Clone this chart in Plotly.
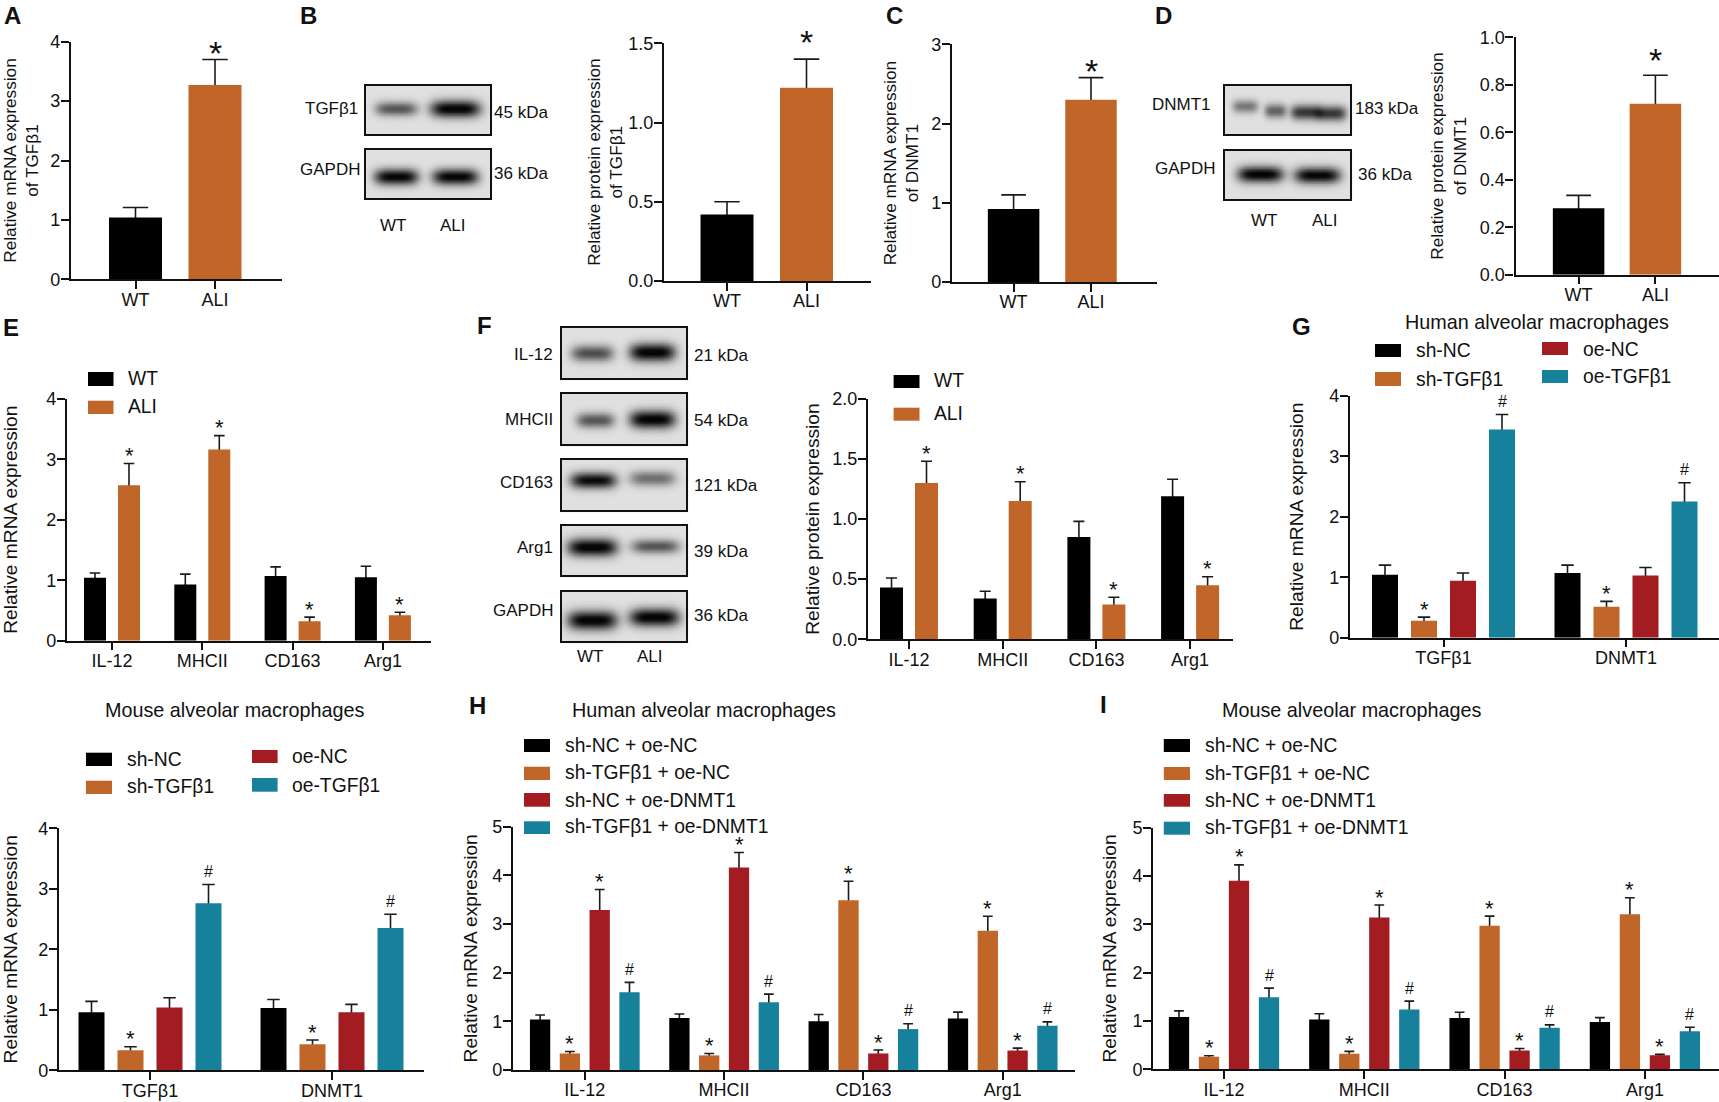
import numpy as np
import plotly.graph_objects as go

W, H = 1719, 1102
BLACK, ORANGE, RED, TEAL = "#000000", "#BF6628", "#A21C22", "#17809A"
FONT = "Liberation Sans, Arial, sans-serif"

# ---------- data ----------
wt_ali = ["WT", "ALI"]
macro_markers = ["IL-12", "MHCII", "CD163", "Arg1"]
genes = ["TGFβ1", "DNMT1"]

a_vals = [1.04, 3.27]; a_tops = [1.21, 3.70]
b_vals = [0.42, 1.22]; b_tops = [0.50, 1.40]
c_vals = [0.92, 2.30]; c_tops = [1.10, 2.58]
d_vals = [0.28, 0.72]; d_tops = [0.334, 0.84]

e_wt = [1.04, 0.93, 1.07, 1.05];   e_wt_tops = [1.12, 1.10, 1.22, 1.23]
e_ali = [2.57, 3.16, 0.32, 0.42];  e_ali_tops = [2.93, 3.39, 0.39, 0.47]
f_wt = [0.43, 0.34, 0.85, 1.19];   f_wt_tops = [0.51, 0.40, 0.98, 1.33]
f_ali = [1.30, 1.15, 0.29, 0.45];  f_ali_tops = [1.48, 1.31, 0.35, 0.52]

g_shnc = [1.04, 1.07];   g_shnc_tops = [1.20, 1.20]
g_shtg = [0.28, 0.51];   g_shtg_tops = [0.34, 0.60]
g_oenc = [0.94, 1.03];   g_oenc_tops = [1.07, 1.16]
g_oetg = [3.44, 2.25];   g_oetg_tops = [3.69, 2.56]

j_shnc = [0.96, 1.03];   j_shnc_tops = [1.14, 1.17]
j_shtg = [0.33, 0.43];   j_shtg_tops = [0.39, 0.50]
j_oenc = [1.04, 0.96];   j_oenc_tops = [1.20, 1.09]
j_oetg = [2.76, 2.35];   j_oetg_tops = [3.07, 2.58]

h_nn = [1.04, 1.07, 1.00, 1.06];  h_nn_tops = [1.13, 1.15, 1.14, 1.19]
h_tn = [0.34, 0.30, 3.49, 2.86];  h_tn_tops = [0.38, 0.34, 3.88, 3.16]
h_nd = [3.29, 4.16, 0.34, 0.40];  h_nd_tops = [3.71, 4.47, 0.41, 0.45]
h_td = [1.60, 1.39, 0.84, 0.91];  h_td_tops = [1.80, 1.56, 0.95, 0.99]

i_nn = [1.08, 1.03, 1.06, 0.98];  i_nn_tops = [1.21, 1.15, 1.18, 1.07]
i_tn = [0.26, 0.32, 2.97, 3.21];  i_tn_tops = [0.28, 0.37, 3.17, 3.55]
i_nd = [3.90, 3.14, 0.39, 0.29];  i_nd_tops = [4.23, 3.40, 0.43, 0.31]
i_td = [1.49, 1.24, 0.86, 0.79];  i_td_tops = [1.68, 1.41, 0.92, 0.87]

two_marks = ["", "*"]
star_4 = ["*", "*", "*", "*"]
hash_4 = ["#", "#", "#", "#"]
none_4 = ["", "", "", ""]
star_2 = ["*", "*"]
hash_2 = ["#", "#"]
none_2 = ["", ""]

fig = go.Figure()
layout = dict(
    width=W, height=H, autosize=False,
    margin=dict(l=0, r=0, t=0, b=0, pad=0, autoexpand=False),
    barmode="overlay",
    paper_bgcolor="white", plot_bgcolor="rgba(0,0,0,0)", showlegend=False,
    font=dict(family=FONT, color="#111111"),
    xaxis=dict(domain=[0, 1], range=[0, W], visible=False, fixedrange=True),
    yaxis=dict(domain=[0, 1], range=[H, 0], visible=False, fixedrange=True),
)
shapes, annots = [], []


def label(x, y, text, size=19.3, anchor="left", bold=False):
    shift = {"left": -2, "right": 2, "center": 0}[anchor]
    annots.append(dict(x=x, y=y, xref="x", yref="y", text=f"<b>{text}</b>" if bold else text,
                       showarrow=False, xanchor=anchor, yanchor="middle", xshift=shift,
                       font=dict(size=size, family=FONT, color="#111111")))


def swatches(items, x0, x1, size=19.3, textx=None):
    for y0, y1, color, text, ty in items:
        shapes.append(dict(type="rect", xref="x", yref="y", x0=x0, x1=x1, y0=y0, y1=y1,
                           fillcolor=color, line=dict(width=0)))
        label(textx, ty, text, size=size)


panel_no = [1]


def panel(box, cats, tick0, step, series, bar_w, pitch, ymax, dtick, fmt, title,
          standoff, tsize=19.2, mark_font=(22, 16), star_shift=8, hash_shift=13):
    panel_no[0] += 1
    n = panel_no[0]
    x0, x1, yt, yb = box
    xa, ya = f"x{n}", f"y{n}"
    tick_idx = np.arange(len(cats), dtype=float)
    for i, (vals, tops, color, marks) in enumerate(series):
        off = (i - (len(series) - 1) / 2) * pitch / step
        xs = tick_idx + off
        vals, tops = np.array(vals, float), np.array(tops, float)
        # error bars sit on a transparent carrier; the coloured bar drawn after it hides the lower half
        fig.add_trace(go.Bar(
            x=xs, y=vals, width=bar_w / step, marker=dict(color="rgba(0,0,0,0)", line=dict(width=0)),
            xaxis=xa, yaxis=ya, hoverinfo="skip",
            error_y=dict(type="data", symmetric=True, array=tops - vals, color="#1a1a1a",
                         thickness=1.6, width=bar_w * 0.24)))
        fig.add_trace(go.Bar(
            x=xs, y=vals, width=bar_w / step, marker=dict(color=color, line=dict(width=0)),
            xaxis=xa, yaxis=ya, hoverinfo="skip"))
        for x, t, m in zip(xs, tops, marks):
            if m:
                annots.append(dict(x=x, y=t, xref=xa, yref=ya, text=m, showarrow=False,
                                   xanchor="center", yanchor="middle",
                                   yshift=star_shift if m == "*" else hash_shift,
                                   font=dict(size=mark_font[0] if m == "*" else mark_font[1],
                                             family=FONT, color="#111111")))
    layout["xaxis%d" % n] = dict(
        domain=[x0 / W, x1 / W], anchor=ya, range=[(x0 - tick0) / step, (x1 - tick0) / step],
        tickmode="array", tickvals=list(tick_idx), ticktext=cats, ticks="outside", ticklen=7.5,
        ticklabelstandoff=-5,
        tickwidth=2, tickcolor="#111111", showline=True, linecolor="#111111", linewidth=2.2,
        showgrid=False, zeroline=False, tickfont=dict(size=18, family=FONT, color="#111111"),
        fixedrange=True)
    layout["yaxis%d" % n] = dict(
        domain=[1 - yb / H, 1 - yt / H], anchor=xa, range=[0, ymax], dtick=dtick, tick0=0,
        tickformat=fmt, ticks="outside", ticklen=8, tickwidth=2, tickcolor="#111111",
        ticklabelstandoff=-3,
        showline=True, linecolor="#111111", linewidth=2.2, showgrid=False, zeroline=False,
        tickfont=dict(size=18, family=FONT, color="#111111"), fixedrange=True,
        title=dict(text=title, standoff=standoff, font=dict(size=tsize, family=FONT, color="#111111")))


def blot(x0, x1, y0, y1, bands, bg=0.88):
    xs = np.arange(x0, x1 + 1, 1.5)
    ys = np.arange(y0, y1 + 1, 1.5)
    X, Y = np.meshgrid(xs, ys)
    z = np.full(X.shape, bg)
    for cx, hw, cy, hh, s in bands:
        z -= s * np.exp(-((X - cx) / hw) ** 4) * np.exp(-((Y - cy) / hh) ** 2)
    fig.add_trace(go.Heatmap(x=xs, y=ys, z=np.clip(z, 0.02, 1).round(3).tolist(), xaxis="x", yaxis="y",
                             zmin=0, zmax=1, zsmooth="best", showscale=False, hoverinfo="skip",
                             colorscale=[[0, "#000000"], [1, "#ffffff"]]))
    shapes.append(dict(type="rect", xref="x", yref="y", x0=x0, x1=x1, y0=y0, y1=y1,
                       line=dict(color="#111111", width=2)))


# ---------- blots (drawn on a full-page pixel axis) ----------
blot(365, 491, 85, 135, [(396, 21, 108.5, 7, 0.55), (455, 25, 108.5, 8.5, 0.9)])
blot(365, 491, 149, 199, [(396, 22, 176.5, 8, 0.88), (455, 23, 176.5, 8, 0.88)])
label(358, 108, "TGFβ1", 17, "right"); label(360, 169, "GAPDH", 17, "right")
label(494, 112, "45 kDa", 17, "left"); label(494, 173, "36 kDa", 17, "left")
label(393, 225, "WT", 17, "center"); label(453, 225, "ALI", 17, "center")

blot(1224, 1351, 85, 135, [(1245, 13, 106, 6.5, 0.42), (1275, 11, 110.5, 7, 0.5),
                           (1305, 15, 112, 7.5, 0.68), (1331, 15, 113, 7.5, 0.68)])
blot(1224, 1351, 150, 200, [(1260, 23, 174, 8, 0.9), (1317, 23, 175, 8, 0.88)])
label(1211, 104, "DNMT1", 17, "right"); label(1215, 168, "GAPDH", 17, "right")
label(1355, 108, "183 kDa", 17, "left"); label(1358, 174, "36 kDa", 17, "left")
label(1264, 220, "WT", 17, "center"); label(1325, 220, "ALI", 17, "center")

blot(561, 687, 327, 379, [(592, 21, 353, 8, 0.58), (652, 23, 352, 9, 0.9)])
blot(561, 687, 393, 445, [(595, 19, 420, 7.5, 0.55), (652, 23, 419, 9, 0.9)])
blot(561, 687, 459, 511, [(593, 23, 480, 8, 0.85), (652, 23, 478, 7.5, 0.45)])
blot(561, 687, 525, 576, [(592, 25, 547, 9, 0.9), (655, 24, 546, 7, 0.55)])
blot(561, 687, 591, 642, [(592, 25, 620, 9.5, 0.9), (654, 25, 617, 9, 0.9)])
for y, name in zip([354, 419, 482, 547, 610], ["IL-12", "MHCII", "CD163", "Arg1", "GAPDH"]):
    label(553, y, name, 17, "right")
for y, name in zip([355, 420, 485, 551, 615], ["21 kDa", "54 kDa", "121 kDa", "39 kDa", "36 kDa"]):
    label(694, y, name, 17, "left")
label(590, 656, "WT", 17, "center"); label(650, 656, "ALI", 17, "center")

# ---------- charts ----------
panel((71, 282, 41.7, 279.3), wt_ali, 135.5, 79.5,
      [(a_vals, a_tops, [BLACK, ORANGE], two_marks)], 53, 0, 4, 1, "d",
      "Relative mRNA expression<br>of TGFβ1", 11, 17.2, (34, 16), 7)
panel((664, 871, 43.3, 281), wt_ali, 727, 79.5,
      [(b_vals, b_tops, [BLACK, ORANGE], two_marks)], 53, 0, 1.5, 0.5, ".1f",
      "Relative protein expression<br>of TGFβ1", 1, 17.2, (34, 16), 17)
panel((952, 1157, 44.3, 282), wt_ali, 1013.6, 77.4,
      [(c_vals, c_tops, [BLACK, ORANGE], two_marks)], 51.5, 0, 3, 1, "d",
      "Relative mRNA expression<br>of DNMT1", 8, 17.2, (34, 16), 7)
panel((1515.5, 1719, 37.3, 274.7), wt_ali, 1578.6, 76.8,
      [(d_vals, d_tops, [BLACK, ORANGE], two_marks)], 51.5, 0, 1, 0.2, ".1f",
      "Relative protein expression<br>of DNMT1", 9, 17.2, (34, 16), 15)

panel((67, 431, 398.7, 640.7), macro_markers, 112, 90.3,
      [(e_wt, e_wt_tops, BLACK, none_4), (e_ali, e_ali_tops, ORANGE, star_4)], 22, 34, 4, 1, "d",
      "Relative mRNA expression", 29)
panel((868, 1233, 398.7, 639.3), macro_markers, 909, 93.7,
      [(f_wt, f_wt_tops, BLACK, none_4), (f_ali, f_ali_tops, ORANGE, star_4)], 23, 35, 2, 0.5, ".1f",
      "Relative protein expression", 8)
panel((1350, 1719, 395.7, 637.7), genes, 1443.5, 182.5,
      [(g_shnc, g_shnc_tops, BLACK, none_2), (g_shtg, g_shtg_tops, ORANGE, star_2),
       (g_oenc, g_oenc_tops, RED, none_2), (g_oetg, g_oetg_tops, TEAL, hash_2)], 26, 39, 4, 1, "d",
      "Relative mRNA expression", 20.5)
panel((59, 423.5, 828.3, 1070.3), genes, 150, 182,
      [(j_shnc, j_shnc_tops, BLACK, none_2), (j_shtg, j_shtg_tops, ORANGE, star_2),
       (j_oenc, j_oenc_tops, RED, none_2), (j_oetg, j_oetg_tops, TEAL, hash_2)], 26, 39, 4, 1, "d",
      "Relative mRNA expression", 25)
panel((513, 1074.6, 826.7, 1070), macro_markers, 584.8, 139.3,
      [(h_nn, h_nn_tops, BLACK, none_4), (h_tn, h_tn_tops, ORANGE, star_4),
       (h_nd, h_nd_tops, RED, star_4), (h_td, h_td_tops, TEAL, hash_4)],
      20.3, 29.8, 5, 1, "d", "Relative mRNA expression", 9.5)
panel((1153.3, 1719, 827.7, 1069.3), macro_markers, 1224, 140.3,
      [(i_nn, i_nn_tops, BLACK, none_4), (i_tn, i_tn_tops, ORANGE, star_4),
       (i_nd, i_nd_tops, RED, star_4), (i_td, i_td_tops, TEAL, hash_4)],
      20.3, 30, 5, 1, "d", "Relative mRNA expression", 10.5)

# ---------- legends and titles ----------
swatches([(372, 386, BLACK, "WT", 378), (400.7, 414, ORANGE, "ALI", 406.7)], 88, 113.5, textx=128)
swatches([(375, 388, BLACK, "WT", 380.7), (407.7, 420.7, ORANGE, "ALI", 413)], 893.6, 919.5, textx=934)
swatches([(344, 357, BLACK, "sh-NC", 350.7), (372, 386, ORANGE, "sh-TGFβ1", 379)], 1375, 1401, textx=1416)
swatches([(342, 355, RED, "oe-NC", 349), (370, 383, TEAL, "oe-TGFβ1", 376)], 1542, 1568, textx=1583)
swatches([(752.7, 766, BLACK, "sh-NC", 759.3), (780.7, 794, ORANGE, "sh-TGFβ1", 786.7)], 86, 112, textx=127)
swatches([(750, 763, RED, "oe-NC", 756.7), (778, 791.7, TEAL, "oe-TGFβ1", 785)], 252, 277.6, textx=292)
combo = ["sh-NC + oe-NC", "sh-TGFβ1 + oe-NC", "sh-NC + oe-DNMT1", "sh-TGFβ1 + oe-DNMT1"]
swatches([(739, 752, BLACK, combo[0], 745), (766.7, 780, ORANGE, combo[1], 772.7),
          (793, 806.7, RED, combo[2], 800), (821.3, 834, TEAL, combo[3], 826.7)], 524, 550, textx=565)
swatches([(739, 752, BLACK, combo[0], 745.7), (767, 780, ORANGE, combo[1], 773.7),
          (794, 806.7, RED, combo[2], 800), (821.7, 834.7, TEAL, combo[3], 827.7)], 1163.8, 1190, textx=1204.5)

label(1537, 321.7, "Human alveolar macrophages", 19.8, "center")
label(234.6, 710, "Mouse alveolar macrophages", 19.8, "center")
label(704, 710, "Human alveolar macrophages", 19.8, "center")
label(1352, 710, "Mouse alveolar macrophages", 19.8, "center")

for letter, x, y in [("A", 12, 15), ("B", 308, 15), ("C", 894, 15), ("D", 1163, 15), ("E", 11, 327),
                     ("F", 484, 325), ("G", 1301, 326.7), ("H", 477.5, 705), ("I", 1103, 704)]:
    label(x, y, letter, 24, "center", bold=True)

layout["shapes"] = shapes
layout["annotations"] = annots
fig.update_layout(**layout)
fig.write_html("out.html", config={"displayModeBar": False},
               post_script="document.body.style.margin='0';document.documentElement.style.overflow='hidden';")
